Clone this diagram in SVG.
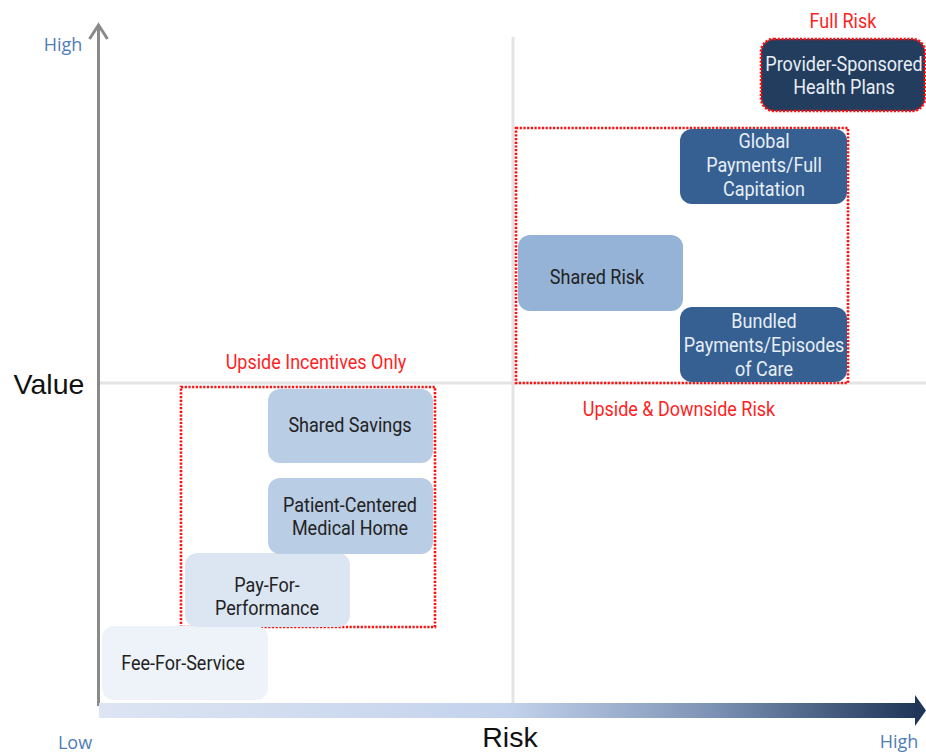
<svg xmlns="http://www.w3.org/2000/svg" width="926" height="754" viewBox="0 0 926 754">
  <defs>
    <linearGradient id="riskGrad" x1="0" y1="0" x2="1" y2="0">
      <stop offset="0" stop-color="#dde5f3"/>
      <stop offset="0.5" stop-color="#c3d2ec"/>
      <stop offset="0.75" stop-color="#7d93b5"/>
      <stop offset="1" stop-color="#1f3658"/>
    </linearGradient>
  </defs>
  <style>
    .grid { stroke: #e4e4e4; stroke-width: 3; fill: none; }
    .axis { stroke: #8a8a8a; stroke-width: 3; fill: none; }
    .zone { fill: none; stroke: #ff0f0f; stroke-width: 2.6; stroke-dasharray: 2.2 1.5; }
    .box { stroke: none; }
    .lvl0 { fill: #eef3f9; }
    .lvl1 { fill: #dce6f2; }
    .lvl2 { fill: #b9cde5; }
    .lvl3 { fill: #95b3d7; }
    .lvl4 { fill: #366092; }
    .lvl5 { fill: #233d5f; }
    .t { font-family: Roboto, "Liberation Sans", sans-serif; font-size: 20px; text-anchor: middle; }
    .dark { fill: #222; }
    .light { fill: #e8eef6; }
    .red { fill: #ff1f1f; font-family: Roboto, "Liberation Sans", sans-serif; font-size: 20px; text-anchor: middle; }
    .tick { fill: #4f7db5; font-family: "Open Sans", "Liberation Sans", sans-serif; font-size: 18px; text-anchor: middle; }
    .axlabel { fill: #111; font-family: "Liberation Sans", Arial, sans-serif; font-size: 28.5px; text-anchor: middle; }
  </style>

  <!-- quadrant guide lines -->
  <g id="grid">
    <line class="grid" x1="100" y1="383" x2="926" y2="383"/>
    <line class="grid" x1="513" y1="37" x2="513" y2="703"/>
  </g>

  <!-- axes -->
  <g id="connectors">
    <line class="axis" x1="98.5" y1="706" x2="98.5" y2="26"/>
    <polyline class="axis" points="89.5,39 98.5,25 107.5,39" stroke-linejoin="miter"/>
    <rect x="99" y="703" width="818" height="15" fill="url(#riskGrad)"/>
    <polygon points="915,695 926,710.5 915,726" fill="#1f3658"/>
  </g>

  <!-- axis labels -->
  <g id="axis-labels">
    <text class="tick" x="63" y="51">High</text>
    <text class="tick" x="75" y="749">Low</text>
    <text class="tick" x="899" y="748">High</text>
    <text class="axlabel" x="49" y="394">Value</text>
    <text class="axlabel" x="510" y="747">Risk</text>
  </g>

  <!-- risk zones -->
  <g id="zone-upside">
    <rect class="zone" x="181" y="387" width="254" height="240"/>
    <text class="red" transform="translate(316 369) scale(0.9 1)">Upside Incentives Only</text>
  </g>
  <g id="zone-downside">
    <rect class="zone" x="516" y="128" width="332" height="255"/>
    <text class="red" transform="translate(679 416) scale(0.9 1)">Upside &amp; Downside Risk</text>
  </g>

  <!-- payment models -->
  <g id="fee-for-service">
    <rect class="box lvl0" x="102" y="626" width="166" height="74" rx="12"/>
    <text class="t dark" transform="translate(183 670) scale(0.9 1)">Fee-For-Service</text>
  </g>
  <g id="pay-for-performance">
    <rect class="box lvl1" x="185" y="553" width="165" height="74" rx="12"/>
    <text class="t dark" transform="translate(267 592) scale(0.9 1)">Pay-For-</text>
    <text class="t dark" transform="translate(267 615) scale(0.9 1)">Performance</text>
  </g>
  <g id="patient-centered-medical-home">
    <rect class="box lvl2" x="268" y="478" width="165" height="76" rx="12"/>
    <text class="t dark" transform="translate(350 512) scale(0.9 1)">Patient-Centered</text>
    <text class="t dark" transform="translate(350 535) scale(0.9 1)">Medical Home</text>
  </g>
  <g id="shared-savings">
    <rect class="box lvl2" x="268" y="389" width="165" height="74" rx="12"/>
    <text class="t dark" transform="translate(350 432) scale(0.9 1)">Shared Savings</text>
  </g>
  <g id="shared-risk">
    <rect class="box lvl3" x="518" y="235" width="165" height="76" rx="12"/>
    <text class="t dark" transform="translate(597 284) scale(0.9 1)">Shared Risk</text>
  </g>
  <g id="global-payments">
    <rect class="box lvl4" x="680" y="129" width="167" height="75" rx="12"/>
    <text class="t light" transform="translate(764 148) scale(0.9 1)">Global</text>
    <text class="t light" transform="translate(764 172) scale(0.9 1)">Payments/Full</text>
    <text class="t light" transform="translate(764 196) scale(0.9 1)">Capitation</text>
  </g>
  <g id="bundled-payments">
    <rect class="box lvl4" x="680" y="307" width="167" height="75" rx="12"/>
    <text class="t light" transform="translate(764 328) scale(0.9 1)">Bundled</text>
    <text class="t light" transform="translate(764 352) scale(0.9 1)">Payments/Episodes</text>
    <text class="t light" transform="translate(764 376) scale(0.9 1)">of Care</text>
  </g>
  <g id="provider-sponsored-health-plans">
    <rect class="box lvl5" x="761" y="39" width="164" height="72" rx="13"/>
    <rect class="zone" x="761" y="39" width="164" height="72" rx="13"/>
    <text class="t light" transform="translate(844 71) scale(0.9 1)">Provider-Sponsored</text>
    <text class="t light" transform="translate(844 94) scale(0.9 1)">Health Plans</text>
    <text class="red" transform="translate(843 28) scale(0.9 1)">Full Risk</text>
  </g>
</svg>
